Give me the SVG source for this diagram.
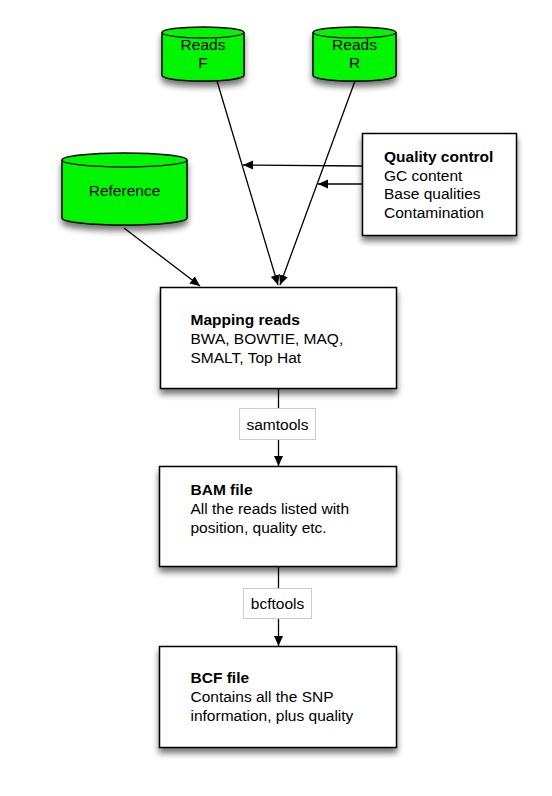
<svg xmlns="http://www.w3.org/2000/svg" width="552" height="796" viewBox="0 0 552 796">
<defs>
<filter id="sh" x="-20%" y="-20%" width="140%" height="150%">
<feGaussianBlur in="SourceAlpha" stdDeviation="3"/>
<feOffset dx="0" dy="5" result="b"/>
<feComponentTransfer><feFuncA type="linear" slope="0.55"/></feComponentTransfer>
<feMerge><feMergeNode/><feMergeNode in="SourceGraphic"/></feMerge>
</filter>
<marker id="ah" viewBox="0 0 10 10" refX="10" refY="5" markerWidth="10" markerHeight="10" markerUnits="userSpaceOnUse" orient="auto">
<path d="M0,0.5 L10,5 L0,9.5 Z" fill="#000"/>
</marker>
</defs>
<style>
text{font-family:"Liberation Sans",Arial,sans-serif;font-size:15.5px;fill:#000}
.b{font-weight:bold}
.box{fill:#fff;stroke:#000;stroke-width:1.5}
.cyl{fill:#00f500;stroke:#000;stroke-width:1.5}
.lbl{fill:#fff;stroke:#ccc;stroke-width:1}
.c{fill:none;stroke:#000;stroke-width:1.3}
</style>
<rect width="552" height="796" fill="#fff"/>
<g id="connectors">
<line class="c" x1="217" y1="81" x2="278" y2="285" marker-end="url(#ah)"/>
<line class="c" x1="355" y1="81" x2="280" y2="285" marker-end="url(#ah)"/>
<line class="c" x1="124" y1="228" x2="200" y2="286" marker-end="url(#ah)"/>
<line class="c" x1="362" y1="166" x2="243" y2="165" marker-end="url(#ah)"/>
<line class="c" x1="362" y1="184" x2="318" y2="184" marker-end="url(#ah)"/>
<line class="c" x1="278.5" y1="389" x2="278.5" y2="408"/>
<line class="c" x1="278.5" y1="440" x2="278.5" y2="466" marker-end="url(#ah)"/>
<line class="c" x1="278.5" y1="567" x2="278.5" y2="588"/>
<line class="c" x1="278.5" y1="619" x2="278.5" y2="646" marker-end="url(#ah)"/>
<g id="label-samtools">
<rect class="lbl" x="239.5" y="408.5" width="76" height="31"/>
<text x="277.5" y="429.5" text-anchor="middle">samtools</text>
</g>
<g id="label-bcftools">
<rect class="lbl" x="243.5" y="588.5" width="68" height="30"/>
<text x="277.5" y="609" text-anchor="middle">bcftools</text>
</g>
</g>
<g id="reads-f">
<path class="cyl" filter="url(#sh)" d="M162,32.5 A41,5.5 0 0 1 244,32.5 V75.5 A41,5.5 0 0 1 162,75.5 Z"/>
<path class="c" d="M162,32.5 A41,5.5 0 0 0 244,32.5"/>
<text x="203" y="49.5" text-anchor="middle">Reads</text>
<text x="203" y="68" text-anchor="middle">F</text>
</g>
<g id="reads-r">
<path class="cyl" filter="url(#sh)" d="M313,32.5 A41.5,5.5 0 0 1 396,32.5 V75.5 A41.5,5.5 0 0 1 313,75.5 Z"/>
<path class="c" d="M313,32.5 A41.5,5.5 0 0 0 396,32.5"/>
<text x="354.5" y="49.5" text-anchor="middle">Reads</text>
<text x="354.5" y="68" text-anchor="middle">R</text>
</g>
<g id="reference">
<path class="cyl" filter="url(#sh)" d="M62,160 A62.5,7 0 0 1 187,160 V218 A62.5,7 0 0 1 62,218 Z"/>
<path class="c" d="M62,160 A62.5,7 0 0 0 187,160"/>
<text x="124.5" y="195.5" text-anchor="middle">Reference</text>
</g>
<g id="quality-control">
<rect class="box" filter="url(#sh)" x="362.5" y="133.5" width="154" height="102"/>
<text x="384" y="162" class="b">Quality control</text>
<text x="384" y="180.5">GC content</text>
<text x="384" y="199">Base qualities</text>
<text x="384" y="217.5">Contamination</text>
</g>
<g id="mapping-reads">
<rect class="box" filter="url(#sh)" x="160.5" y="287.5" width="236" height="101"/>
<text x="190.5" y="325" class="b">Mapping reads</text>
<text x="190.5" y="344">BWA, BOWTIE, MAQ,</text>
<text x="190.5" y="363">SMALT, Top Hat</text>
</g>
<g id="bam-file">
<rect class="box" filter="url(#sh)" x="159.5" y="466.5" width="237" height="100"/>
<text x="190.5" y="495" class="b">BAM file</text>
<text x="190.5" y="514">All the reads listed with</text>
<text x="190.5" y="533">position, quality etc.</text>
</g>
<g id="bcf-file">
<rect class="box" filter="url(#sh)" x="159.5" y="646.5" width="237" height="101"/>
<text x="190.5" y="683" class="b">BCF file</text>
<text x="190.5" y="702">Contains all the SNP</text>
<text x="190.5" y="721">information, plus quality</text>
</g>
</svg>
